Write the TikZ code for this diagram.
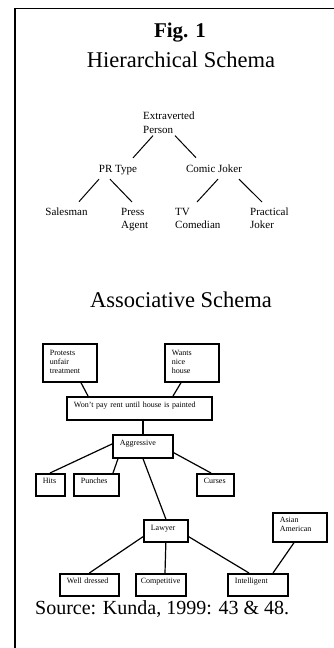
\documentclass[tikz,border=0pt]{standalone}
\usepackage{fontspec}
\setmainfont{Liberation Serif}
\usetikzlibrary{positioning}

\begin{document}
\begin{tikzpicture}[x=1pt,y=-1pt,
    concept/.style n args={3}{draw,line width=1.7pt,anchor=north west,align=left,
      inner xsep=7pt,inner ysep=0pt,font=\fontsize{8}{9}\selectfont,
      text width=#1pt,text height=#2pt,text depth=#3pt},
    level/.style={inner sep=0pt,font=\fontsize{11}{13.5}\selectfont},
    tree/.style={line width=1pt},
    link/.style={line width=1.2pt}]
      \useasboundingbox (0,0) rectangle (334,648);
      % Frame
      \draw[line width=1.7pt] (15,650) -- (15,8.5) -- (336,8.5);
      % Titles
      \node[font=\bfseries\fontsize{21}{24}\selectfont,anchor=base] (fig) at (180,37) {Fig. 1};
      \node[font=\fontsize{22.5}{26}\selectfont,anchor=base] (htitle) at (181,67.5) {Hierarchical Schema};
      \node[font=\fontsize{22.5}{26}\selectfont,anchor=base] (atitle) at (181,307) {Associative Schema};
      % Hierarchical schema
      \node[level,align=left,anchor=north west] (ext) at (143,112) {Extraverted\\Person};
      \node[level,anchor=base] (pr) at (118,172) {PR Type};
      \node[level,anchor=base] (comic) at (214,172) {Comic Joker};
      \node[level,anchor=base] (sales) at (66.5,215) {Salesman};
      \node[level,align=left,anchor=north west] (press) at (121,207.7) {Press\\Agent};
      \node[level,align=left,anchor=north west] (tv) at (175,207.7) {TV\\Comedian};
      \node[level,align=left,anchor=north west] (prac) at (250,207.5) {Practical\\Joker};
      \draw[tree] ([xshift=10pt,yshift=-2pt]ext.south west) -- ([xshift=15pt,yshift=6.7pt]pr.north);
      \draw[tree] ([xshift=32pt,yshift=-2pt]ext.south west) -- ([xshift=-18pt,yshift=6.5pt]comic.north);
      \draw[tree] ([xshift=-19pt,yshift=-4.6pt]pr.south) -- ([xshift=12.5pt,yshift=5.5pt]sales.north);
      \draw[tree] ([xshift=-8pt,yshift=-4.6pt]pr.south) -- ([xshift=11pt,yshift=5.7pt]press.north west);
      \draw[tree] ([xshift=4pt,yshift=-6.8pt]comic.south) -- ([xshift=22pt,yshift=5.7pt]tv.north west);
      \draw[tree] ([xshift=25pt,yshift=-6.8pt]comic.south) -- ([xshift=12pt,yshift=5.5pt]prac.north west);
      % Associative schema
      \node[concept={40}{12}{26}] (prot) at (42,343) {Protests\\unfair\\treatment};
      \node[concept={40}{12}{26}] (wants) at (164,343) {Wants\\nice\\house};
      \node[concept={131}{11}{12}] (wont) at (66,396) {Won't pay rent until house is painted};
      \node[concept={46}{11}{12}] (aggr) at (112,434) {Aggressive};
      \node[concept={15}{10}{12}] (hits) at (35,473) {Hits};
      \node[concept={31}{10}{12}] (punch) at (73,473) {Punches};
      \node[concept={23}{10}{12}] (curses) at (196,473) {Curses};
      \node[concept={30}{11}{11}] (lawyer) at (143,519) {Lawyer};
      \node[concept={40}{10}{19}] (asian) at (272,512) {Asian\\American};
      \node[concept={45}{10}{12}] (well) at (59,573) {Well dressed};
      \node[concept={40}{10}{12},inner xsep=5pt] (comp) at (135,573) {Competitive};
      \node[concept={46}{10}{12}] (intel) at (227,573) {Intelligent};
      \draw[link] ([xshift=39pt]prot.south west) -- ([xshift=22pt]wont.north west);
      \draw[link] ([xshift=17pt]wants.south west) -- ([xshift=107pt]wont.north west);
      \draw[link] ([xshift=77pt]wont.south west) -- ([xshift=31pt]aggr.north west);
      \draw[link] ([yshift=-10pt]aggr.north west) -- ([xshift=15pt]hits.north west);
      \draw[link] ([xshift=6pt]aggr.south west) -- ([xshift=40pt]punch.north west);
      \draw[link] ([xshift=31pt]aggr.south west) -- (lawyer.north);
      \draw[link] ([yshift=6pt]aggr.south east) -- ([xshift=15pt]curses.north west);
      \draw[link] ([yshift=6pt]lawyer.south west) -- (well.north);
      \draw[link] (lawyer.south) -- ([xshift=30pt]comp.north west);
      \draw[link] ([yshift=6pt]lawyer.south east) -- ([xshift=22pt]intel.north west);
      \draw[link] ([xshift=22pt]asian.south west) -- ([xshift=46pt]intel.north west);
      % Source
      \node[font=\fontsize{20}{24}\selectfont,anchor=base west,inner sep=0pt] (source) at (35,614) {Source: Kunda, 1999: 43 \& 48.};
    \end{tikzpicture}
\end{document}
